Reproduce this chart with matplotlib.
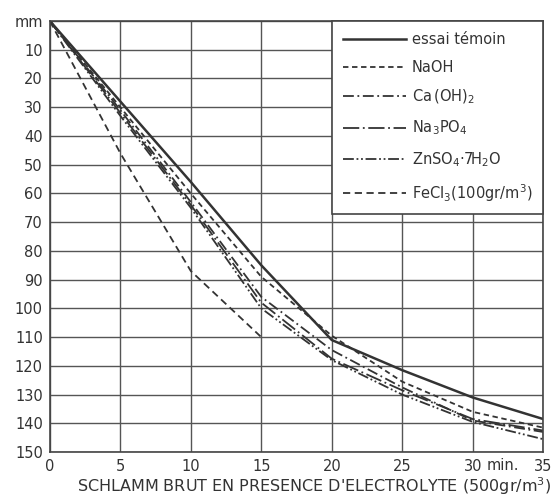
import matplotlib
matplotlib.use("Agg")
import matplotlib.pyplot as plt

plt.rcParams['font.family'] = ['DejaVu Sans']

t = [0, 5, 10, 15, 20, 25, 30, 35]
temoin = [0, 28, 56, 85, 111, 121.5, 131, 138.5]
naoh = [0, 30, 60, 89, 109.5, 125.5, 136, 141.5]
caoh2 = [0, 31, 63, 96, 114.5, 127.5, 139, 143]
na3po4 = [0, 32, 64, 98, 117.5, 128.5, 138.5, 142.5]
znso4 = [0, 33, 65, 100, 118, 130, 139.5, 145.5]
t_fecl3 = [0, 5, 10, 15]
fecl3 = [0, 46, 87, 110]

labels = ["essai témoin", "NaOH", r"Ca$\,$(OH)$_2$", r"Na$_3$PO$_4$",
          r"ZnSO$_4$·7H$_2$O", r"FeCl$_3$(100gr/m$^3$)"]

xticks = [0, 5, 10, 15, 20, 25, 30, 35]
xticklabels = ["0", "5", "10", "15", "20", "25", "30", "35"]
yticks = list(range(0, 151, 10))
yticklabels = ["mm"] + [str(v) for v in range(10, 151, 10)]

ink = "#333333"
fig = plt.figure(figsize=(5.6, 4.99), dpi=100)
ax = fig.add_axes([0.089, 0.094, 0.881, 0.864])

ax.plot(t, temoin, color=ink, lw=1.8, ls='-', label=labels[0])
ax.plot(t, naoh, color=ink, lw=1.3, ls=(0, (3, 2)), label=labels[1])
ax.plot(t, caoh2, color=ink, lw=1.3, ls=(0, (6, 2, 1, 2)), label=labels[2])
ax.plot(t, na3po4, color=ink, lw=1.3, ls=(0, (9, 2, 1, 2)), label=labels[3])
ax.plot(t, znso4, color=ink, lw=1.3, ls=(0, (6, 1.5, 1, 1.5, 1, 1.5)), label=labels[4])
ax.plot(t_fecl3, fecl3, color=ink, lw=1.3, ls=(0, (4, 2.5)), label=labels[5])

ax.set_xlim(0, 35)
ax.set_ylim(150, 0)
ax.set_xticks(xticks)
ax.set_xticklabels(xticklabels)
ax.set_yticks(yticks)
ax.set_yticklabels(yticklabels)
ax.tick_params(length=0, labelsize=10.5, colors=ink, pad=5)
ax.grid(True, color="#555555", lw=1.0)
for s in ax.spines.values():
    s.set_color("#444444")
    s.set_linewidth(1.2)

ax.text(31.0, -0.014, "min.", transform=ax.get_xaxis_transform(), fontsize=10.5,
        color=ink, va='top', ha='left')
ax.text(0.535, -0.08, "SCHLAMM BRUT EN PRESENCE D'ELECTROLYTE (500gr/m$^3$)",
        transform=ax.transAxes, ha='center', va='center', fontsize=11.5, color=ink)

leg = ax.legend(loc='upper right', bbox_to_anchor=(1.0, 1.0), borderaxespad=0,
                frameon=True, fancybox=False, edgecolor="#444444",
                fontsize=10.5, labelspacing=0.88, handlelength=4.3, handletextpad=0.4,
                borderpad=0.75, framealpha=1.0)
leg.get_frame().set_linewidth(1.2)
for txt in leg.get_texts():
    txt.set_color(ink)

fig.savefig("out.png", dpi=100, facecolor="white")
